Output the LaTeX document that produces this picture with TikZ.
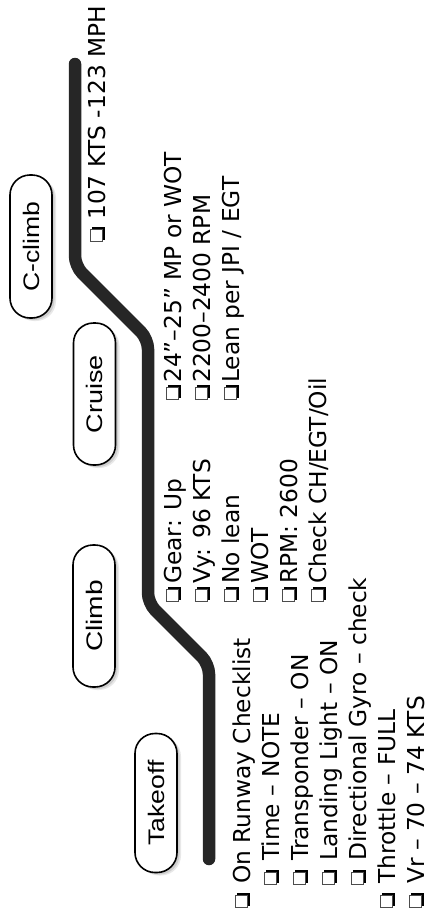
\documentclass[tikz,border=0pt]{standalone}
\usepackage{fontspec}
\usepackage{graphicx}
\setmainfont{DejaVu Sans}
\newfontfamily\bubblefont{Liberation Sans}
\usetikzlibrary{shadows}

% check box with drop shadow (lower right)
\newcommand\cbx{%
  \rlap{\color{black!70}\rule[2.5pt]{0.7pt}{13pt}}%
  \rlap{\color{black!70}\rule[14.8pt]{13pt}{0.7pt}}%
  \rlap{\color{black!70}\rule[2.5pt]{13pt}{0.7pt}}%
  \rlap{\hspace{12.3pt}\color{black!70}\rule[2.5pt]{0.7pt}{13pt}}%
  \rlap{\hspace{13pt}\rule[0.5pt]{2pt}{13pt}}%
  \rlap{\hspace{2pt}\rule[0.5pt]{13pt}{2pt}}%
  \hspace{15pt}}
\newcommand\inch{{\char34}}

\tikzset{
  item/.style={rotate=90, anchor=base west, inner sep=0pt,
    font=\fontsize{23.3pt}{28pt}\selectfont},
  phase/.style={draw=black, line width=1.6pt, fill=white, rounded corners=20pt,
    inner sep=0pt, font=\bubblefont\fontsize{22.5pt}{22.5pt}\selectfont,
    drop shadow={shadow xshift=4pt, shadow yshift=-3pt, opacity=0.18},
    drop shadow={shadow xshift=2.5pt, shadow yshift=-2pt, opacity=0.25}},
  track/.style={line width=12.5pt, line cap=round, line join=round,
    rounded corners=10pt, draw=black!85}
}

\begin{document}
\begin{tikzpicture}[x=1pt, y=-1pt]
\useasboundingbox (0,0) rectangle (428,913);

% flight profile
\coordinate (A) at (209,859);
\coordinate (B) at (209,664);
\coordinate (C) at (148,603);
\coordinate (D) at (148,339);
\coordinate (E) at (75,266);
\coordinate (F) at (75,64);
\draw[track] (A) -- (B) -- (C) -- (D) -- (E) -- (F);

% phase labels
\node[phase, minimum width=42pt, minimum height=139pt] (takeoff) at (156,803)
  {\rotatebox{90}{\scalebox{1.18}[1]{Takeoff}}};
\node[phase, minimum width=42pt, minimum height=142pt] (climb) at (94,616)
  {\rotatebox{90}{\scalebox{1.25}[1]{Climb}}};
\node[phase, minimum width=42pt, minimum height=142pt] (cruise) at (94.5,394)
  {\rotatebox{90}{\scalebox{1.2}[1]{Cruise}}};
\node[phase, minimum width=42pt, minimum height=143pt] (cclimb) at (31,246.5)
  {\rotatebox{90}{\scalebox{1.18}[1]{C-climb}}};

% takeoff checklist
\node[item] (t1) at (250,908) {\cbx\hspace{9pt}On Runway Checklist};
\node[item] (t2) at (279,885) {\cbx\hspace{9pt}Time – NOTE};
\node[item] (t3) at (308,885) {\cbx\hspace{9pt}Transponder – ON};
\node[item] (t4) at (337,885) {\cbx\hspace{9pt}Landing Light – ON};
\node[item] (t5) at (366,885) {\cbx\hspace{9pt}Directional Gyro – check};
\node[item] (t6) at (395,908) {\cbx\hspace{9pt}Throttle – FULL};
\node[item] (t7) at (424,908) {\cbx\hspace{9pt}Vr – 70 – 74 KTS};

% climb checklist
\node[item] (c1) at (181,602) {\cbx\hspace{3pt}Gear: Up};
\node[item] (c2) at (210,602) {\cbx\hspace{3pt}Vy: 96 KTS};
\node[item] (c3) at (239,602) {\cbx\hspace{3pt}No lean};
\node[item] (c4) at (268,602) {\cbx\hspace{3pt}WOT};
\node[item] (c5) at (297,602) {\cbx\hspace{3pt}RPM: 2600};
\node[item] (c6) at (326,602) {\cbx\hspace{3pt}Check CH/EGT/Oil};

% cruise checklist
\node[item] (r1) at (181,400) {\cbx\hspace{2pt}24\inch–25\inch{} MP or WOT};
\node[item] (r2) at (210,400) {\cbx\hspace{2pt}2200–2400 RPM};
\node[item] (r3) at (239,400) {\cbx\hspace{2pt}Lean per JPI / EGT};

% cruise-climb checklist
\node[item] (k1) at (105,242) {\cbx\hspace{7pt}107 KTS -123 MPH};
\end{tikzpicture}
\end{document}
